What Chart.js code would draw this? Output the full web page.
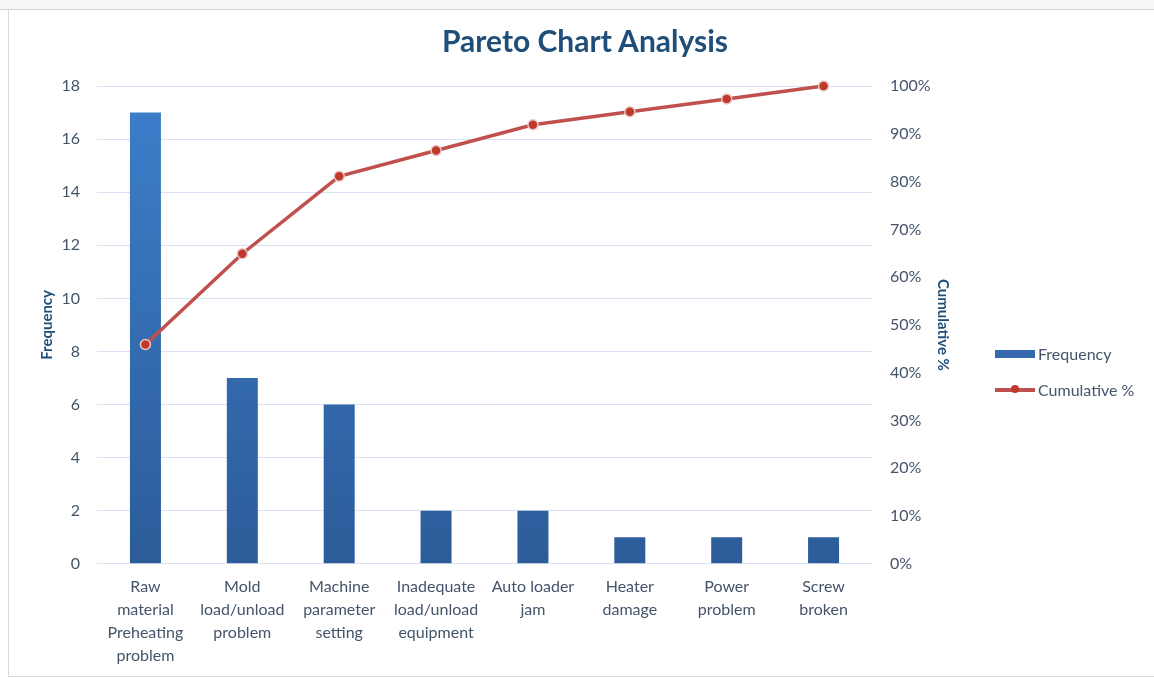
<!DOCTYPE html>
<html>
<head>
<meta charset="utf-8">
<script src="https://cdn.jsdelivr.net/npm/chart.js@4.4.0/dist/chart.umd.min.js"></script>
<style>
  html, body { margin: 0; padding: 0; background: #fff; }
  #frame { position: absolute; left: 0; top: 0; width: 1154px; height: 678px; }
  #topline { position: absolute; left: 0; top: 0; width: 1154px; height: 9px; border-bottom: 1px solid #D4D4D4; background: #F6F6F6; }
  #box { position: absolute; left: 8px; top: 10px; width: 1146px; height: 666px; border-left: 1px solid #D9D9D9; border-bottom: 1px solid #D9D9D9; }
  canvas { position: absolute; left: 0; top: 0; }
  #title { position: absolute; left: 0; width: 1170px; top: 22px; text-align: center; font-family: Lato, sans-serif; font-weight: bold; font-size: 30px; color: #1F4E79; }
  .legend { position: absolute; left: 995px; font-family: Lato, sans-serif; font-size: 16px; color: #44546A; }
  .legend span { display: inline-block; vertical-align: middle; }
</style>
</head>
<body>
<div id="frame">
  <div id="topline"></div>
  <div id="box"></div>
  <canvas id="paretoChart" width="1154" height="678"></canvas>
  <div id="title">Pareto Chart Analysis</div>
  <div class="legend" style="top:342px;">
    <span style="width:40px;height:8px;background:#3568AE;margin-right:3px;"></span><span>Frequency</span>
  </div>
  <div class="legend" style="top:378px;">
    <span style="position:relative;width:40px;height:4px;background:#C0504D;margin-right:3px;">
      <span style="position:absolute;left:16px;top:-3px;width:8px;height:8px;border-radius:50%;background:#C0392B;"></span>
    </span><span>Cumulative %</span>
  </div>
</div>
<script>
// Data
const causes = [
    ['Raw', 'material', 'Preheating', 'problem'],
    ['Mold', 'load/unload', 'problem'],
    ['Machine', 'parameter', 'setting'],
    ['Inadequate', 'load/unload', 'equipment'],
    ['Auto loader', 'jam'],
    ['Heater', 'damage'],
    ['Power', 'problem'],
    ['Screw', 'broken']
];
const frequency = [17, 7, 6, 2, 2, 1, 1, 1];
const cumulativePct = [45.9, 64.9, 81.1, 86.5, 91.9, 94.6, 97.3, 100];

const tickColor = '#44546A';
const gridColor = '#D9E2F3';
const fontFamily = 'Lato, sans-serif';

// vertical gradient for the bars
function barGradient(context) {
    const chart = context.chart;
    const area = chart.chartArea;
    if (!area) return '#3568AE';
    const g = chart.ctx.createLinearGradient(0, area.top, 0, area.bottom);
    g.addColorStop(0, '#3D7FCC');
    g.addColorStop(1, '#2C5C99');
    return g;
}

const ctx = document.getElementById('paretoChart').getContext('2d');
const paretoChart = new Chart(ctx, {
    data: {
        labels: causes,
        datasets: [
            {
                type: 'line',
                label: 'Cumulative %',
                data: cumulativePct,
                yAxisID: 'yPct',
                borderColor: '#C0504D',
                borderWidth: 3.5,
                pointRadius: 5,
                pointBackgroundColor: '#C0392B',
                pointBorderColor: '#E8C9C6',
                pointBorderWidth: 1.5,
                tension: 0,
                clip: false,
                order: 0
            },
            {
                type: 'bar',
                label: 'Frequency',
                data: frequency,
                yAxisID: 'y',
                backgroundColor: barGradient,
                barPercentage: 0.32,
                categoryPercentage: 1,
                order: 1
            }
        ]
    },
    options: {
        responsive: false,
        animation: false,
        layout: { padding: { left: 38, right: 202, top: 86, bottom: 0 } },
        plugins: {
            legend: { display: false },
            tooltip: { enabled: false }
        },
        scales: {
            x: {
                grid: { display: false, drawTicks: false },
                border: { color: '#D9E2F3' },
                ticks: {
                    color: tickColor,
                    font: { family: fontFamily, size: 16, lineHeight: 1.44 },
                    maxRotation: 0,
                    autoSkip: false,
                    padding: 11
                }
            },
            y: {
                position: 'left',
                min: 0,
                max: 18,
                afterFit: (scale) => { scale.width = 59; },
                grid: { color: gridColor, drawTicks: false },
                border: { display: false },
                ticks: {
                    stepSize: 2,
                    color: tickColor,
                    font: { family: fontFamily, size: 16 },
                    padding: 17
                },
                title: {
                    display: true,
                    text: 'Frequency',
                    color: '#1F4E79',
                    font: { family: fontFamily, size: 15, weight: 'bold' },
                    padding: 0
                }
            },
            yPct: {
                position: 'right',
                min: 0,
                max: 100,
                afterFit: (scale) => { scale.width = 80; },
                grid: { display: false, drawTicks: false },
                border: { display: false },
                ticks: {
                    stepSize: 10,
                    color: tickColor,
                    font: { family: fontFamily, size: 16 },
                    padding: 18,
                    callback: (v) => v + '%'
                },
                title: {
                    display: true,
                    text: 'Cumulative %',
                    color: '#1F4E79',
                    font: { family: fontFamily, size: 15, weight: 'bold' },
                    padding: 0
                }
            }
        }
    }
});
</script>
</body>
</html>
